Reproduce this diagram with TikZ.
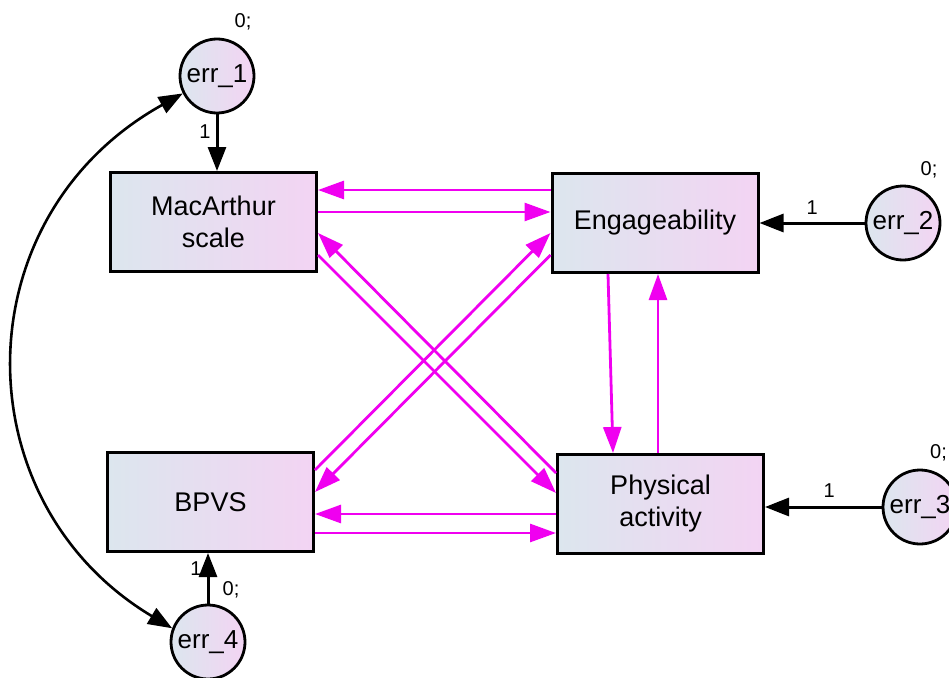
\documentclass[tikz,border=0pt]{standalone}
\usepackage{fontspec}
\setmainfont{Liberation Sans}
\usetikzlibrary{arrows.meta,calc}
\definecolor{magc}{RGB}{240,0,240}
\definecolor{boxL}{RGB}{220,230,238}
\definecolor{boxR}{RGB}{243,212,243}
\tikzset{
  varbox/.style={rectangle, draw=black, line width=3pt, minimum width=206pt, minimum height=99pt,
    left color=boxL, right color=boxR, align=center, font=\fontsize{27}{32}\selectfont, inner sep=0pt},
  errc/.style={circle, draw=black, line width=2.8pt, minimum size=74pt, inner sep=0pt,
    left color=boxL, right color=boxR, font=\fontsize{26}{30}\selectfont},
  blk/.style={draw=black, line width=3pt, -{Triangle[length=24pt,width=18pt]}},
  dbl/.style={draw=black, line width=2.6pt, {Triangle[length=24pt,width=18pt]}-{Triangle[length=24pt,width=18pt]}},
  mag/.style={draw=magc, line width=2.8pt, -{Triangle[length=26pt,width=18pt]}},
  sml/.style={font=\fontsize{20}{24}\selectfont, inner sep=0pt}
}
\begin{document}
\begin{tikzpicture}[x=1pt,y=-1pt]
\useasboundingbox (0,0) rectangle (949,677);
% boxes
\node[varbox] (mac) at (213.5,222) {MacArthur\\scale};
\node[varbox] (eng) at (655,223) {Engageability};
\node[varbox] (phys) at (660.5,504) {Physical\\activity};
\node[varbox] (bpvs) at (210.5,502) {BPVS};
% error circles
\node[errc] (err1) at (217,76) {err\_1};
\node[errc] (err2) at (903,223) {err\_2};
\node[errc] (err3) at (920,507) {err\_3};
\node[errc] (err4) at (208,642) {err\_4};
% variance labels
\node[sml] (v1) at (243,22) {0;};
\node[sml] (v2) at (929,170) {0;};
\node[sml, anchor=east] (v3) at (947,453) {0;};
\node[sml] (v4) at (231,590) {0;};
% black arrows
\draw[blk] (err1.south) -- (mac.north -| err1.south) node[sml, pos=0.3, left=5pt] (l1) {1};
\draw[blk] (err2.west) -- (eng.east |- err2.west) node[sml, pos=0.5, above=7pt] (l2) {1};
\draw[blk] (err3.west) -- (phys.east |- err3.west) node[sml, pos=0.45, above=8pt] (l3) {1};
\draw[blk] (err4.north) -- (bpvs.south -| err4.north) node[sml, pos=0.7, left=5pt] (l4) {1};
\draw[dbl] (err1.207) .. controls (-39,217) and (-39,502) .. (err4.159);
% magenta arrows
\draw[mag] (eng.west |- 0,190) -- (mac.east |- 0,190);
\draw[mag] (mac.east |- 0,212) -- (eng.west |- 0,212);
\draw[mag] (phys.west |- 0,473) -- (mac.east |- 0,233);
\draw[mag] (mac.east |- 0,255) -- (phys.west |- 0,493);
\draw[mag] (bpvs.east |- 0,470) -- (eng.west |- 0,233);
\draw[mag] (eng.west |- 0,255) -- (bpvs.east |- 0,492);
\draw[mag] (phys.west |- 0,514) -- (bpvs.east |- 0,514);
\draw[mag] (bpvs.east |- 0,533) -- (phys.west |- 0,533);
\draw[mag] (eng.south -| 608,0) -- (phys.north -| 613,0);
\draw[mag] (phys.north -| 658,0) -- (eng.south -| 658,0);
\end{tikzpicture}
\end{document}
